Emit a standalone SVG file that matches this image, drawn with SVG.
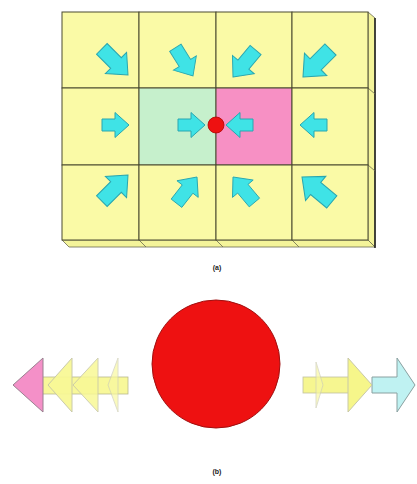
<svg xmlns="http://www.w3.org/2000/svg" xmlns:xlink="http://www.w3.org/1999/xlink" width="417" height="484" viewBox="0 0 417 484">
<style>
.cell{fill:#fafaa6;stroke:#4a4a30;stroke-width:1}
.side{fill:#f4f49a;stroke:#6a6a50;stroke-width:0.8}
.ca{fill:#3fe3e6;stroke:#2aa6b0;stroke-width:1}
.lbl{font-family:"Liberation Sans",Arial,sans-serif;font-size:7px;font-weight:bold;fill:#222;text-anchor:middle}
</style>
<defs>
<path id="am" d="M0,0 L-14,-12.5 L-14,-6 L-27,-6 L-27,6 L-14,6 L-14,12.5 Z"/>
<path id="ad" d="M0,0 L-17,-15 L-17,-7.5 L-37,-7.5 L-37,7.5 L-17,7.5 L-17,15 Z"/>
</defs>
<rect width="417" height="484" fill="#ffffff"/>
<g id="grid">
<polygon class="side" points="368,12 375,18 375,247 368,240"/>
<polygon class="side" points="62,240 368,240 375,247 69,247"/>
<line x1="375" y1="18" x2="375" y2="248" stroke="#222" stroke-width="1.6"/>
<line x1="368" y1="88" x2="375" y2="94" stroke="#6a6a50" stroke-width="0.8"/>
<line x1="368" y1="165" x2="375" y2="171" stroke="#6a6a50" stroke-width="0.8"/>
<line x1="139" y1="240" x2="146" y2="247" stroke="#6a6a50" stroke-width="0.8"/>
<line x1="216" y1="240" x2="223" y2="247" stroke="#6a6a50" stroke-width="0.8"/>
<line x1="292" y1="240" x2="299" y2="247" stroke="#6a6a50" stroke-width="0.8"/>
</g>
<g id="cells">
<rect class="cell" x="62" y="12" width="77" height="76"/>
<rect class="cell" x="139" y="12" width="77" height="76"/>
<rect class="cell" x="216" y="12" width="76" height="76"/>
<rect class="cell" x="292" y="12" width="76" height="76"/>
<rect class="cell" x="62" y="88" width="77" height="77"/>
<rect class="cell" x="139" y="88" width="77" height="77" style="fill:#c6f0cc"/>
<rect class="cell" x="216" y="88" width="76" height="77" style="fill:#f790c4"/>
<rect class="cell" x="292" y="88" width="76" height="77"/>
<rect class="cell" x="62" y="165" width="77" height="75"/>
<rect class="cell" x="139" y="165" width="77" height="75"/>
<rect class="cell" x="216" y="165" width="76" height="75"/>
<rect class="cell" x="292" y="165" width="76" height="75"/>
</g>
<g id="arrows-a">
<use href="#ad" class="ca" transform="translate(128,75) rotate(45)"/>
<use href="#ad" class="ca" transform="translate(193,76) rotate(58) scale(0.9)"/>
<use href="#ad" class="ca" transform="translate(233,77) rotate(130) scale(0.95)"/>
<use href="#ad" class="ca" transform="translate(303,77) rotate(135) scale(1.05)"/>
<use href="#am" class="ca" transform="translate(129,125)"/>
<use href="#am" class="ca" transform="translate(205,125)"/>
<use href="#am" class="ca" transform="translate(226,125) rotate(180)"/>
<use href="#am" class="ca" transform="translate(300,125) rotate(180)"/>
<use href="#ad" class="ca" transform="translate(128,175) rotate(-45)"/>
<use href="#ad" class="ca" transform="translate(197,177) rotate(-52) scale(0.9)"/>
<use href="#ad" class="ca" transform="translate(233,177) rotate(-130) scale(0.9)"/>
<use href="#ad" class="ca" transform="translate(302,177) rotate(-140) scale(1.05)"/>
</g>
<g id="dot">
<circle cx="216" cy="125" r="8" fill="#ee1111" stroke="#b00000" stroke-width="0.8"/>
</g>
<text class="lbl" x="217" y="270">(a)</text>
<g id="left-arrows">
<rect x="40" y="377" width="88" height="17" fill="#f8f89a" stroke="#b8b890" stroke-width="0.8"/>
<polygon points="13,385 43,358 43,412" fill="#f490c8" stroke="#9a8090" stroke-width="1"/>
<polygon points="48,385 72,358 72,412" fill="#f8f896" stroke="#c8c8a8" stroke-width="1" opacity="0.95"/>
<polygon points="73,385 98,358 98,412" fill="#f8f896" stroke="#c8c8a8" stroke-width="1" opacity="0.85"/>
<polygon points="108,385 118,358 118,412" fill="#f8f8a0" stroke="#d0d0b8" stroke-width="1" opacity="0.7"/>
</g>
<g id="ball">
<circle cx="216" cy="364" r="64" fill="#ee1111" stroke="#a01010" stroke-width="1"/>
</g>
<g id="right-arrows">
<polygon points="372,377 397,377 397,358 415,385 397,412 397,393 372,393" fill="#bff2f2" stroke="#8aa0a0" stroke-width="1"/>
<rect x="303" y="377" width="50" height="16" fill="#f6f690" stroke="#c0c0a0" stroke-width="0.8"/>
<polygon points="348,358 372,385 348,412" fill="#f6f68a" stroke="#c8c8a8" stroke-width="1"/>
<polygon points="316,362 323,385 316,408" fill="#f8f8a0" stroke="#d0d0b8" stroke-width="1" opacity="0.7"/>
</g>
<text class="lbl" x="217" y="474">(b)</text>
</svg>
